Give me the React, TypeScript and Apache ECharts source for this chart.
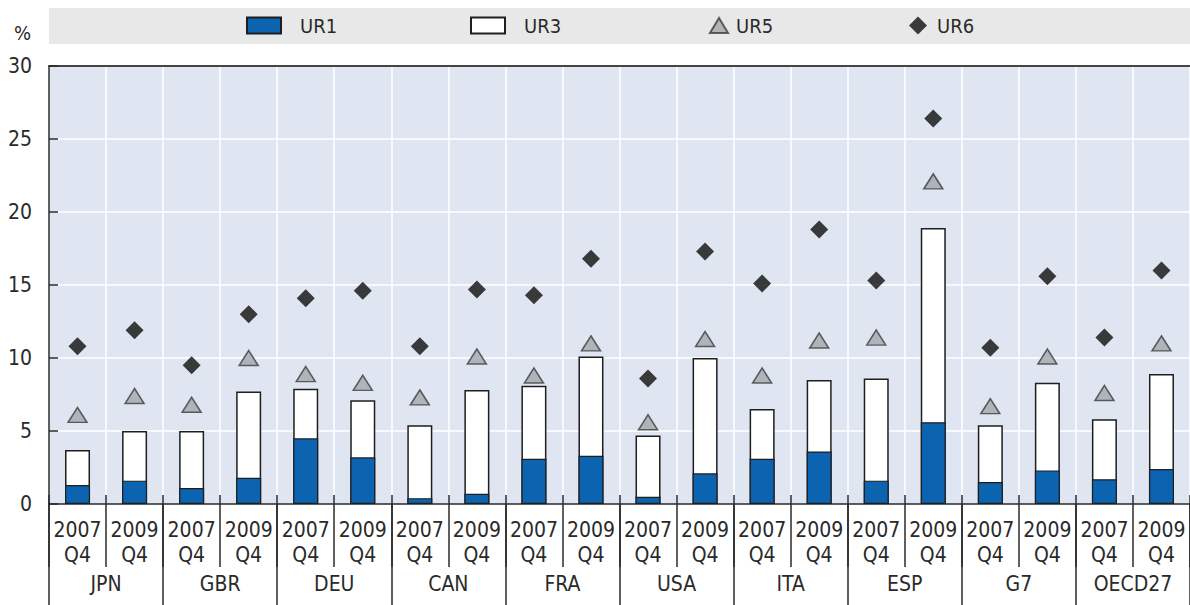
import React, { useEffect, useRef } from "react";
import * as echarts from "echarts";

const countries = ["JPN", "GBR", "DEU", "CAN", "FRA", "USA", "ITA", "ESP", "G7", "OECD27"];
const periods = ["2007\nQ4", "2009\nQ4"];
const ur1 = [1.3, 1.6, 1.1, 1.8, 4.5, 3.2, 0.4, 0.7, 3.1, 3.3, 0.5, 2.1, 3.1, 3.6, 1.6, 5.6, 1.5, 2.3, 1.7, 2.4];
const ur3 = [3.7, 5.0, 5.0, 7.7, 7.9, 7.1, 5.4, 7.8, 8.1, 10.1, 4.7, 10.0, 6.5, 8.5, 8.6, 18.9, 5.4, 8.3, 5.8, 8.9];
const ur5 = [6.1, 7.4, 6.8, 10.0, 8.9, 8.3, 7.3, 10.1, 8.8, 11.0, 5.6, 11.3, 8.8, 11.2, 11.4, 22.1, 6.7, 10.1, 7.6, 11.0];
const ur6 = [10.8, 11.9, 9.5, 13.0, 14.1, 14.6, 10.8, 14.7, 14.3, 16.8, 8.6, 17.3, 15.1, 18.8, 15.3, 26.4, 10.7, 15.6, 11.4, 16.0];
const yTicks = { min: 0, max: 30, interval: 5 };

const FONT = "'Liberation Sans Narrow', 'DejaVu Sans Condensed', 'Liberation Sans', sans-serif";
const INK = "#2a2a2a";

export default function App() {
  const ref = useRef<HTMLDivElement>(null);
  useEffect(() => {
    if (!ref.current) return;
    const chart = echarts.init(ref.current, undefined, { renderer: "svg" });
    const cats: string[] = [];
    countries.forEach(() => periods.forEach((p) => cats.push(p)));
    const legendBase = {
      padding: 0,
      top: 15.5,
      selectedMode: false,
      textStyle: { fontFamily: FONT, fontSize: 20, lineHeight: 20, color: INK },
    };
    chart.setOption({
      animation: false,
      textStyle: { fontFamily: FONT },
      graphic: [
        {
          type: "rect",
          shape: { x: 49, y: 8, width: 1141, height: 36 },
          style: { fill: "#e8e8e8" },
          z: -1,
        },
      ],
      legend: [
        { ...legendBase, data: ["UR1"], left: 246, itemWidth: 34, itemHeight: 16, icon: "rect",
          textStyle: { ...legendBase.textStyle, padding: [0, 0, 0, 14] } },
        { ...legendBase, data: ["UR3"], left: 470, itemWidth: 34, itemHeight: 16, icon: "rect",
          textStyle: { ...legendBase.textStyle, padding: [0, 0, 0, 14] } },
        { ...legendBase, data: ["UR5"], left: 709, itemWidth: 18, itemHeight: 15,
          textStyle: { ...legendBase.textStyle, padding: [0, 0, 0, 3] } },
        { ...legendBase, data: ["UR6"], left: 909, itemWidth: 18, itemHeight: 18,
          textStyle: { ...legendBase.textStyle, padding: [0, 0, 0, 5] } },
      ],
      grid: {
        left: 49,
        right: 0,
        top: 66,
        bottom: 101,
        show: true,
        backgroundColor: "#dfe5f1",
        borderWidth: 0,
      },
      xAxis: [
        {
          type: "category",
          data: cats,
          position: "bottom",
          axisLine: { show: true, lineStyle: { color: INK, width: 1.5 } },
          axisTick: { show: true, inside: true, length: 9, lineStyle: { color: INK, width: 1.5 } },
          axisLabel: { interval: 0, margin: 13, fontSize: 21, lineHeight: 25, color: INK, fontFamily: FONT },
          splitLine: { show: true, interval: 0, lineStyle: { color: "#ffffff", width: 1.5 } },
        },
        {
          type: "category",
          data: cats,
          position: "bottom",
          axisLine: { show: false },
          axisTick: { show: true, interval: 0, length: 63, lineStyle: { color: INK, width: 1.5 } },
          axisLabel: { show: false },
          splitLine: { show: false },
        },
        {
          type: "category",
          data: countries,
          position: "bottom",
          axisLine: { show: false },
          axisTick: { show: true, interval: 0, length: 102, lineStyle: { color: INK, width: 1.5 } },
          axisLabel: { interval: 0, margin: 67, fontSize: 21, lineHeight: 25, color: INK, fontFamily: FONT },
          splitLine: { show: false },
        },
        {
          type: "category",
          data: cats,
          position: "top",
          axisLine: { show: true, lineStyle: { color: "#444", width: 2 } },
          axisTick: { show: false },
          axisLabel: { show: false },
          splitLine: { show: false },
        },
      ],
      yAxis: {
        type: "value",
        min: yTicks.min,
        max: yTicks.max,
        interval: yTicks.interval,
        name: "%",
        nameLocation: "end",
        nameGap: 23,
        nameTextStyle: { fontSize: 20, color: INK, align: "right", padding: [0, 18, 0, 0], fontFamily: FONT },
        axisLine: { show: true, lineStyle: { color: INK, width: 1.5 } },
        axisTick: { show: true, inside: true, length: 9, lineStyle: { color: INK, width: 1.5 } },
        axisLabel: { fontSize: 21, color: INK, margin: 17, fontFamily: FONT },
        splitLine: { show: true, showMinLine: false, showMaxLine: false, lineStyle: { color: "#ffffff", width: 1.5 } },
      },
      series: [
        {
          name: "UR3",
          type: "bar",
          data: ur3,
          barWidth: 25,
          barGap: "-100%",
          z: 2,
          itemStyle: { color: "#ffffff", borderColor: "#1e1e1e", borderWidth: 1.5 },
        },
        {
          name: "UR1",
          type: "bar",
          data: ur1,
          barWidth: 25,
          barGap: "-100%",
          z: 3,
          itemStyle: { color: "#0c63b0", borderColor: "#1e1e1e", borderWidth: 1.2 },
        },
        {
          name: "UR5",
          type: "scatter",
          data: ur5,
          symbol: "triangle",
          symbolSize: [19, 15],
          z: 4,
          itemStyle: { color: "#a3a7ad", borderColor: "#3c3c3c", borderWidth: 1.5 },
        },
        {
          name: "UR6",
          type: "scatter",
          data: ur6,
          symbol: "diamond",
          symbolSize: [18, 18],
          z: 4,
          itemStyle: { color: "#0e0e0e" },
        },
      ],
    });
    return () => chart.dispose();
  }, []);
  return (
    <div
      ref={ref}
      style={{ position: "absolute", left: 0, top: 0, width: 1190, height: 605 }}
    />
  );
}
